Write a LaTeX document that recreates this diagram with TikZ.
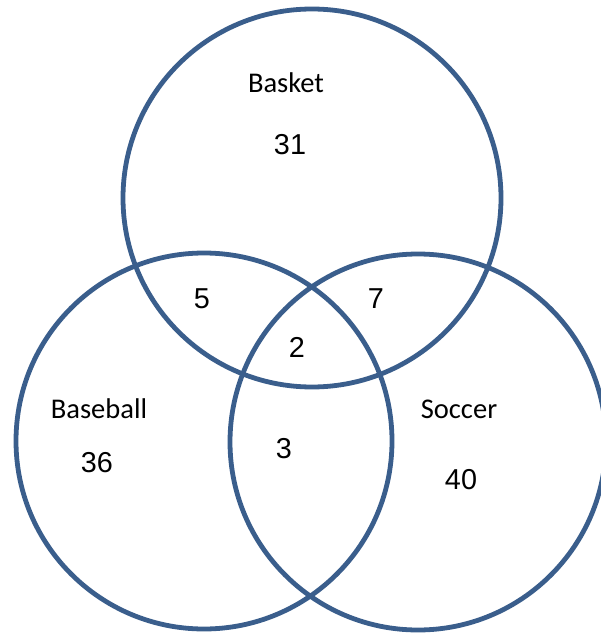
\documentclass[tikz,border=0pt]{standalone}
\usepackage{fontspec}
\usepackage{tikz}
\newfontfamily\labfont{Carlito}
\newfontfamily\numfont{Liberation Sans}
\definecolor{setblue}{RGB}{58,94,140}
\tikzset{
  setcircle/.style = {circle, draw=setblue, line width=3.6pt, inner sep=0pt,
    minimum size=282pt},% cercle d'ensemble
  setname/.style = {anchor=base, inner sep=0pt,
    font=\labfont\fontsize{21.4}{24}\selectfont},
  setcount/.style = {anchor=base, inner sep=0pt,
    font=\numfont\fontsize{21.6}{24}\selectfont}
}
\begin{document}
\begin{tikzpicture}[x=0.75pt,y=-0.75pt]
  \useasboundingbox (0,0) rectangle (600,634);
  % les trois ensembles
  \node [setcircle, minimum size=283.5pt] (basket) at (312,198) {};
  \node [setcircle] (baseball) at (204,441) {};
  \node [setcircle] (soccer) at (418,442) {};
  % noms
  \node [setname] (basketname) at (286,93) {Basket};
  \node [setname] (baseballname) at (99,418) {Baseball};
  \node [setname] (soccername) at (459,418) {Soccer};
  % effectifs
  \node [setcount] (nbasket) at (290,155) {31};
  \node [setcount] (nbaseball) at (97,472) {36};
  \node [setcount] (nsoccer) at (461,489) {40};
  \node [setcount] (nbb) at (202,308) {5};
  \node [setcount] (nbs) at (376,308) {7};
  \node [setcount] (nall) at (297,357) {2};
  \node [setcount] (nbs2) at (284,458) {3};
\end{tikzpicture}
\end{document}
